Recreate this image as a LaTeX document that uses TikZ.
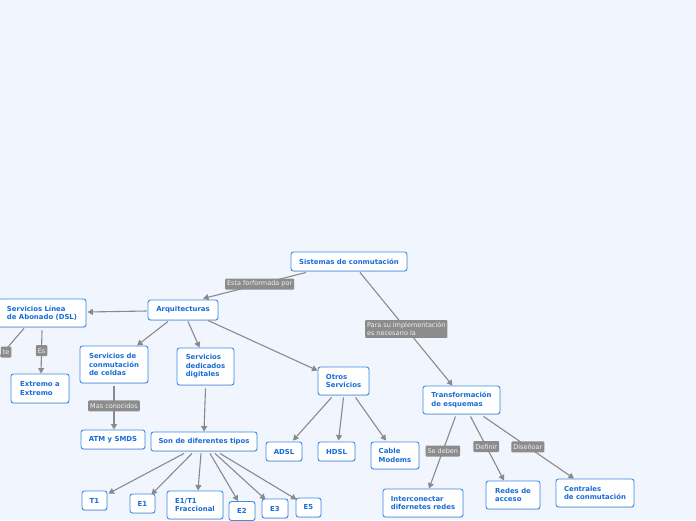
\documentclass[tikz,border=0pt]{standalone}
\usepackage{fontspec}
\setmainfont{DejaVu Sans}
\usetikzlibrary{calc,arrows.meta,shadows}
\definecolor{bgc}{RGB}{241,245,253}
\definecolor{bordc}{RGB}{62,139,232}
\definecolor{txtc}{RGB}{24,108,214}
\definecolor{edgec}{RGB}{138,138,138}
\definecolor{lblc}{RGB}{140,140,140}
\tikzset{
  box/.style={draw=bordc, line width=0.9pt, fill=white, rounded corners=2.5pt,
    text=txtc, font=\bfseries\fontsize{6.9}{8.6}\selectfont, align=left,
    inner sep=2pt, drop shadow={shadow xshift=0.4pt, shadow yshift=-0.8pt, opacity=0.25}},
  lbl/.style={fill=lblc, rounded corners=1pt, text=white!94!black,
    font=\fontsize{6.5}{8.6}\selectfont, align=left, inner sep=2pt, minimum height=11pt},
  conn/.style={draw=edgec, line width=1.1pt},
  arr/.style={conn, -{Triangle[length=5.5pt,width=6pt]}}
}
\begin{document}
\begin{tikzpicture}[x=1pt,y=-1pt]
\useasboundingbox (0,0) rectangle (696,520);
\fill[bgc] (0,0) rectangle (696,520);
\clip (0,0) rectangle (696,520);

% nodes
\node[box, minimum width=116pt, minimum height=19pt] (sis) at (349,261.5) {Sistemas de conmutación};
\node[box, minimum width=70pt, minimum height=20pt] (arq) at (183,310) {Arquitecturas};
\node[box, minimum width=88pt, minimum height=28pt] (dsl) at (42,313) {Servicios Línea\\de Abonado (DSL)};
\node[box, minimum width=58pt, minimum height=29pt] (ext) at (40,388.5) {Extremo a\\Extremo};
\node[box, minimum width=68pt, minimum height=37pt] (celdas) at (114,364.5) {Servicios de\\conmutación\\de celdas};
\node[box, minimum width=57pt, minimum height=37pt] (dedic) at (205.5,366.5) {Servicios\\dedicados\\digitales};
\node[box, minimum width=51pt, minimum height=28pt] (otros) at (343.5,381) {Otros\\Servicios};
\node[box, minimum width=77pt, minimum height=28pt] (trans) at (461.5,400) {Transformación\\de esquemas};
\node[box, minimum width=64pt, minimum height=19pt] (atm) at (113,439.5) {ATM y SMDS};
\node[box, minimum width=106pt, minimum height=19pt] (son) at (204,441.5) {Son de diferentes tipos};
\node[box, minimum width=36pt, minimum height=19pt] (adsl) at (284,451.5) {ADSL};
\node[box, minimum width=37pt, minimum height=19pt] (hdsl) at (336.5,451.5) {HDSL};
\node[box, minimum width=48pt, minimum height=27pt] (cable) at (395,455.5) {Cable\\Modems};
\node[box, minimum width=80pt, minimum height=28pt] (inter) at (423,503) {Interconectar\\difernetes redes};
\node[box, minimum width=54pt, minimum height=28pt] (redes) at (513,495) {Redes de\\acceso};
\node[box, minimum width=78pt, minimum height=28pt] (centr) at (595,493) {Centrales\\de conmutación};
\node[box, minimum width=25pt, minimum height=19pt] (t1) at (94.5,500.5) {T1};
\node[box, minimum width=25pt, minimum height=19pt] (e1) at (142.5,503.5) {E1};
\node[box, minimum width=56pt, minimum height=28pt] (e1t1) at (195,505) {E1/T1\\Fraccional};
\node[box, minimum width=26pt, minimum height=19pt] (e2) at (242,511) {E2};
\node[box, minimum width=26pt, minimum height=19pt] (e3) at (275,508.5) {E3};
\node[box, minimum width=25pt, minimum height=19pt] (e5) at (308.5,507.5) {E5};

\coordinate (offl) at (-12,370);

% connectors
\draw[arr] ($(sis.south)+(-43,1)$) -- ($(arq.north)+(20,-1)$)
  node[lbl, pos=0.45] (l1) {Esta forformada por};
\draw[arr] ($(sis.south)+(11,1)$) -- ($(trans.north)+(-9,0)$)
  node[lbl, pos=0.5] (l2) {Para su implementación\\es necesario la};
\draw[arr] ($(arq.west)+(-1,1)$) -- ($(dsl.east)+(1,-1)$);
\draw[arr] ($(arq.south)+(-15,1)$) -- ($(celdas.north)+(23,0)$);
\draw[arr] ($(arq.south)+(5,1)$) -- ($(dedic.north)+(-6,0)$);
\draw[arr] ($(arq.south)+(25,0)$) -- ($(otros.north west)+(0,4)$);
\draw[arr] ($(dsl.south)+(0,3)$) -- ($(ext.north)+(1,0)$)
  node[lbl, pos=0.47] (l3) {Es};
\draw[conn] ($(dsl.south)+(-18,1)$) -- (offl);
\node[lbl, anchor=east] (l4) at (11.5,352) {te};
\draw[arr] ($(celdas.south)+(0,3)$) -- ($(atm.north)+(1,0)$)
  node[lbl, pos=0.45] (l5) {Mas conocidos};
\draw[arr] ($(dedic.south)+(0,3)$) -- ($(son.north)+(0,0)$);
\draw[arr] ($(otros.south)+(-12,2)$) -- ($(adsl.north)+(9,-1)$);
\draw[arr] ($(otros.south)+(0,2)$) -- ($(hdsl.north)+(2,-1)$);
\draw[arr] ($(otros.south)+(12,2)$) -- ($(cable.north)+(-9,-1)$);
\draw[arr] ($(son.south)+(-20,2)$) -- ($(t1.north east)+(1,3)$);
\draw[arr] ($(son.south)+(-12,2)$) -- ($(e1.north east)+(-4,1)$);
\draw[arr] ($(son.south)+(-3,2)$) -- ($(e1t1.north)+(3,0)$);
\draw[arr] ($(son.south)+(6,2)$) -- ($(e2.north)+(-4,0)$);
\draw[arr] ($(son.south)+(11,2)$) -- ($(e3.north west)+(4,1)$);
\draw[arr] ($(son.south)+(16,2)$) -- ($(e5.north west)+(1,2)$);
\draw[arr] ($(trans.south)+(-6,2)$) -- ($(inter.north)+(6,0)$)
  node[lbl, pos=0.48] (l6) {Se deben};
\draw[arr] ($(trans.south)+(9,2)$) -- ($(redes.north)+(-9,0)$)
  node[lbl, pos=0.47] (l7) {Definir};
\draw[arr] ($(trans.south)+(22,2)$) -- ($(centr.north)+(-21,0)$)
  node[lbl, pos=0.49] (l8) {Diseñoar};
\end{tikzpicture}
\end{document}
